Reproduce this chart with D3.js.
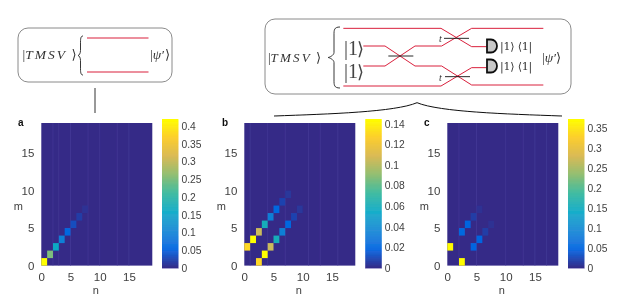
<!DOCTYPE html>
<html>
<head>
<meta charset="utf-8">
<script src="https://cdn.jsdelivr.net/npm/d3@7"></script>
<style>
  html, body { margin: 0; padding: 0; background: #fff; }
  svg { display: block; }
  text { font-family: "Liberation Sans", Arial, sans-serif; fill: #404040; }
  .math { font-family: "Liberation Serif", "DejaVu Serif", serif; fill: #333; }
  .math-i { font-style: italic; }
</style>
</head>
<body>
<div id="chart"></div>
<script>
// Data: [n, m, value], everything else is 0
const cellsA = [[0,0,0.42],[1,1,0.25],[2,2,0.16],[3,3,0.095],[4,4,0.06],[5,5,0.032],[6,6,0.018],[7,7,0.008]];
const cellsB = [
  [0,2,0.13],[1,3,0.145],[2,4,0.105],[3,5,0.06],[4,6,0.033],[5,7,0.02],[6,8,0.008],[7,9,0.004],
  [2,0,0.13],[3,1,0.145],[4,2,0.105],[5,3,0.06],[6,4,0.033],[7,5,0.02],[8,6,0.008],[9,7,0.004]
];
const cellsC = [
  [0,2,0.37],[2,4,0.055],[3,5,0.05],[4,6,0.016],[5,7,0.006],
  [2,0,0.37],[4,2,0.05],[5,3,0.05],[6,4,0.016],[7,5,0.006]
];

const gridSize = 19;
const axisTicks = [0, 5, 10, 15];
const barTicksA = [0, 0.05, 0.1, 0.15, 0.2, 0.25, 0.3, 0.35, 0.4];
const barTicksB = [0, 0.02, 0.04, 0.06, 0.08, 0.1, 0.12, 0.14];
const barTicksC = [0, 0.05, 0.1, 0.15, 0.2, 0.25, 0.3, 0.35];

// faint seams of the resampled image
const seamsA = [2, 3, 5, 8, 10, 13, 15];
const seamsB = [1, 4, 7, 11, 13, 16];
const seamsC = [2, 5, 10, 13, 15, 17];

// parula
const parulaColors = ["#352a87","#0363e1","#1485d4","#06a7c6","#38b99e","#92bf73","#d9ba56","#fcce2e","#ffff00"];

const width = 623;
const height = 299;

const svg = d3.select("#chart").append("svg")
  .attr("width", width)
  .attr("height", height)
  .attr("viewBox", [0, 0, width, height]);

// the original is a slightly soft raster
svg.append("defs").append("filter")
  .attr("id", "soft")
  .append("feGaussianBlur")
  .attr("stdDeviation", 0.3);

const root = svg.append("g").attr("filter", "url(#soft)");

const plotTop = 123, plotBottom = 265.6, barTop = 119, barBottom = 268;

function heatmap(opt) {
  const x = d3.scaleLinear().domain([0, gridSize]).range([opt.left, opt.left + 111]);
  const y = d3.scaleLinear().domain([0, gridSize]).range([plotBottom, plotTop]);
  const color = d3.scaleLinear()
    .domain(d3.range(parulaColors.length).map(i => i / (parulaColors.length - 1) * opt.max))
    .range(parulaColors);

  const g = root.append("g");

  g.append("rect")
    .attr("x", x(0)).attr("y", y(gridSize))
    .attr("width", x(gridSize) - x(0)).attr("height", y(0) - y(gridSize))
    .attr("fill", color(0));

  g.selectAll(".seam").data(opt.seams).enter().append("line")
    .attr("x1", d => x(d)).attr("x2", d => x(d))
    .attr("y1", y(gridSize)).attr("y2", y(0))
    .attr("stroke", "#453b98").attr("stroke-width", 0.7);

  g.selectAll(".cell").data(opt.cells).enter().append("rect")
    .attr("class", "cell")
    .attr("x", d => x(d[0]))
    .attr("y", d => y(d[1] + 1))
    .attr("width", x(1) - x(0))
    .attr("height", y(0) - y(1))
    .attr("fill", d => color(d[2]));

  const xAxis = g.append("g")
    .attr("transform", `translate(0,${plotBottom})`)
    .call(d3.axisBottom(x).tickValues(axisTicks).tickSize(0).tickPadding(7));
  const yAxis = g.append("g")
    .attr("transform", `translate(${opt.left},0)`)
    .call(d3.axisLeft(y).tickValues(axisTicks).tickSize(0).tickPadding(7));
  [xAxis, yAxis].forEach(a => {
    a.select(".domain").remove();
    a.selectAll("text").attr("font-size", 11.5).attr("font-family", null);
  });

  g.append("text").attr("x", x(gridSize / 2) - 1).attr("y", 294)
    .attr("text-anchor", "middle").attr("font-size", 11).text("n");
  g.append("text").attr("x", opt.left - 23).attr("y", 210)
    .attr("text-anchor", "middle").attr("font-size", 11).text("m");
  g.append("text").attr("x", opt.labelX).attr("y", 126)
    .attr("font-size", 10).attr("font-weight", "bold").style("fill", "#111").text(opt.label);

  // colour bar
  const barY = d3.scaleLinear().domain([0, opt.max]).range([barBottom, barTop]);
  const steps = d3.range(0, 150).map(i => i / 150 * opt.max);
  g.selectAll(".step").data(steps).enter().append("rect")
    .attr("x", opt.barLeft)
    .attr("y", d => barY(d + opt.max / 150))
    .attr("width", 16.4)
    .attr("height", barY(0) - barY(opt.max / 150) + 0.4)
    .attr("fill", d => color(d));
  g.append("rect").attr("x", opt.barLeft).attr("y", barBottom)
    .attr("width", 16.4).attr("height", 1).attr("fill", "#a9a3d0");

  const barAxis = g.append("g")
    .attr("transform", `translate(${opt.barLeft + 16.4},0)`)
    .call(d3.axisRight(barY).tickValues(opt.ticks).tickSize(0).tickPadding(3).tickFormat(d3.format("~g")));
  barAxis.select(".domain").remove();
  barAxis.selectAll("text").attr("font-size", 10.3).attr("font-family", null);
}

heatmap({cells: cellsA, seams: seamsA, ticks: barTicksA, max: 0.42, left: 41.3, barLeft: 162, label: "a", labelX: 18});
heatmap({cells: cellsB, seams: seamsB, ticks: barTicksB, max: 0.1448, left: 244.3, barLeft: 365.3, label: "b", labelX: 222});
heatmap({cells: cellsC, seams: seamsC, ticks: barTicksC, max: 0.373, left: 447.3, barLeft: 568, label: "c", labelX: 424});

/* schematics above the plots */
const RED = "#d9203c";
const polyline = d3.line();

function mathText(x, y, size, str, cls) {
  return root.append("text").attr("class", "math " + (cls || ""))
    .attr("x", x).attr("y", y).attr("font-size", size).text(str);
}

// vertical curly brace with its tip on the left
function leftBrace(x, y0, y1, w) {
  const m = (y0 + y1) / 2, c = x + w / 2;
  return `M${x + w},${y0} C${c},${y0} ${c},${y0 + 3} ${c},${y0 + 8} L${c},${m - 5} C${c},${m - 2} ${x + 1},${m} ${x},${m} ` +
    `C${x + 1},${m} ${c},${m + 2} ${c},${m + 5} L${c},${y1 - 8} C${c},${y1 - 3} ${c},${y1} ${x + w},${y1}`;
}

function box(x, y, w, h, r) {
  root.append("rect").attr("x", x).attr("y", y).attr("width", w).attr("height", h)
    .attr("rx", r).attr("fill", "#fff").attr("stroke", "#8a8a8a").attr("stroke-width", 1);
}

// left box
box(18, 28, 154, 54, 10);
mathText(22.5, 59, 13.5, "|").append("tspan").attr("class", "math-i").attr("letter-spacing", 2).text("TMSV");
mathText(71.5, 59, 13, "⟩").style("font-family", "DejaVu Sans");
root.append("path").attr("d", leftBrace(78, 36, 75, 5)).attr("fill", "none").attr("stroke", "#222").attr("stroke-width", 0.9);
[38, 72].forEach(yy => {
  root.append("path").attr("d", polyline([[87, yy], [148.5, yy]])).attr("stroke", RED).attr("stroke-width", 1.2);
});
mathText(150, 59, 13.5, "|").append("tspan").attr("class", "math-i").text("ψ′");
mathText(165, 59, 13, "⟩").style("font-family", "DejaVu Sans");
root.append("path").attr("d", polyline([[95, 88], [95, 113]])).attr("stroke", "#333").attr("stroke-width", 1);

// right box
box(265, 19, 306, 75, 10);
mathText(268, 62, 13, "|").append("tspan").attr("class", "math-i").attr("letter-spacing", 2.2).text("TMSV");
mathText(316, 62, 13, "⟩").style("font-family", "DejaVu Sans");
root.append("path").attr("d", leftBrace(328, 27, 88, 12)).attr("fill", "none").attr("stroke", "#222").attr("stroke-width", 0.9);

mathText(344, 55, 20, "|1").style("fill", "#444");
mathText(357, 55, 18, "⟩").style("font-family", "DejaVu Sans").style("fill", "#444");
mathText(344, 78, 20, "|1").style("fill", "#444");
mathText(357, 78, 18, "⟩").style("font-family", "DejaVu Sans").style("fill", "#444");

// rails, in crop coordinates of the schematic (3x, offset 260,10)
const toPage = p => [p[0] / 3 + 260, p[1] / 3 + 10];
const rails = [
  [[250,55],[543,55],[635,110],[680,110]],
  [[310,108],[375,108],[465,168],[545,168],[635,225],[850,225]],
  [[310,168],[375,168],[465,108],[545,108],[635,55],[850,55]],
  [[250,228],[543,228],[635,173],[680,173]]
];
rails.forEach(r => {
  root.append("path").attr("d", polyline(r.map(toPage)))
    .attr("fill", "none").attr("stroke", RED).attr("stroke-width", 1);
});
const splitters = [[[385,138],[460,138]], [[552,85],[627,85]], [[555,200],[630,200]]];
splitters.forEach(s => {
  root.append("path").attr("d", polyline(s.map(toPage))).attr("stroke", "#111").attr("stroke-width", 0.9);
});
mathText(439, 42, 10, "t", "math-i");
mathText(439, 81, 10, "t", "math-i");

// detectors
[46, 66].forEach(yy => {
  root.append("path")
    .attr("d", `M487,${yy - 6.5} L491,${yy - 6.5} A6,6.5 0 0 1 491,${yy + 6.5} L487,${yy + 6.5} Z`)
    .attr("fill", "#c8c8c8").attr("stroke", "#111").attr("stroke-width", 1.8);
  mathText(500, yy + 4, 11, "|1⟩ ⟨1|").style("font-family", "DejaVu Serif").attr("letter-spacing", -0.2);
});
mathText(542, 62, 13.5, "|").append("tspan").attr("class", "math-i").text("ψ′");
mathText(556, 62, 13, "⟩").style("font-family", "DejaVu Sans");

// wide brace over panels b and c
root.append("path")
  .attr("d", "M274,116 C330,114 395,112 417,102.7 C440,112 505,114 562,116")
  .attr("fill", "none").attr("stroke", "#111").attr("stroke-width", 1);
</script>
</body>
</html>
